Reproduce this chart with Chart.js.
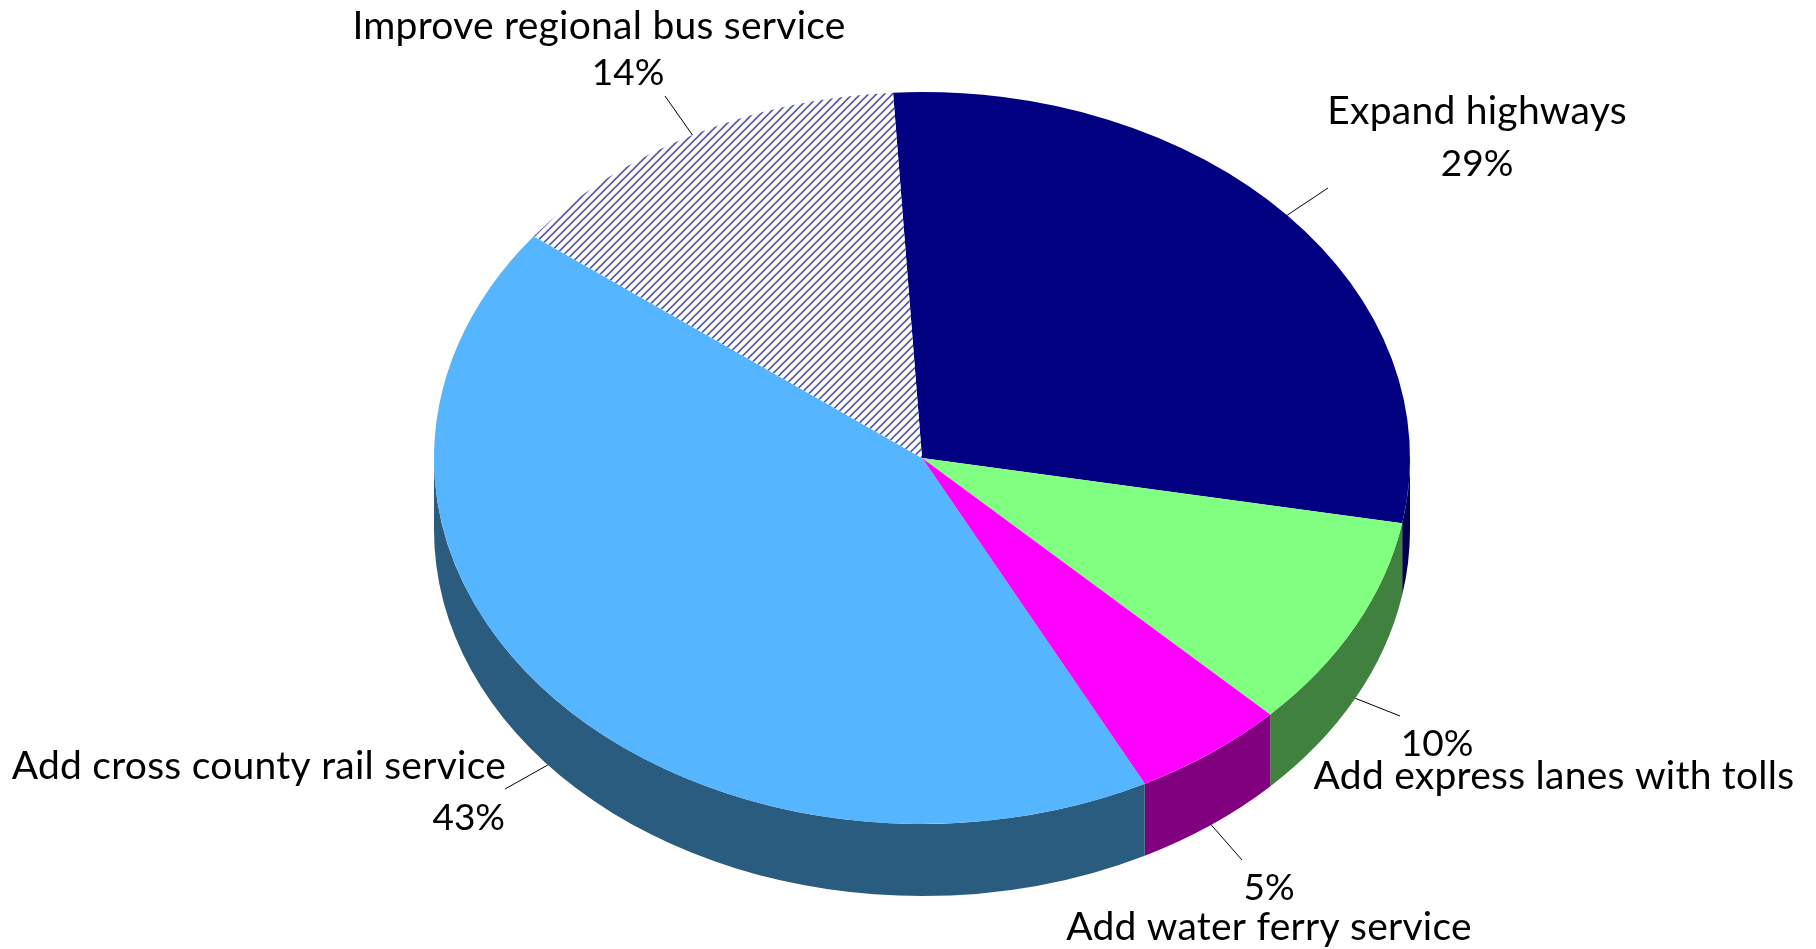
<!DOCTYPE html>
<html>
<head>
<meta charset="utf-8">
<style>
  html, body { margin: 0; padding: 0; background: #fff; }
  #chart-box { width: 1816px; height: 949px; }
</style>
</head>
<body>
<div id="chart-box"><canvas id="pie-chart"></canvas></div>
<script src="https://cdn.jsdelivr.net/npm/chart.js@4/dist/chart.umd.min.js"></script>
<script>
const categories = ['Expand highways', 'Add express lanes with tolls', 'Add water ferry service', 'Add cross county rail service', 'Improve regional bus service'];
const shares = [28.8, 9.5, 5.1, 42.9, 13.7];
const topColors = ['#000080', '#80ff80', '#ff00ff', '#55b6ff', null];
const wallColors = ['#000050', '#41813f', '#80007f', '#2a5c80', '#555566'];
const rotationDeg = -3.4;

// Where each label sits: leader end, then the two text rows [text kind, x, baseline, align]
const labelLayout = [
    { leader: [1328, 188], rows: [['name', 1477, 124, 'center'], ['pct', 1477, 176, 'center']] },
    { leader: [1400, 716], rows: [['pct', 1437, 756, 'center'], ['name', 1554, 789, 'center']] },
    { leader: [1242, 860], rows: [['pct', 1269, 900, 'center'], ['name', 1269, 940, 'center']] },
    { leader: [505, 789], rows: [['name', 506, 779, 'right'], ['pct', 505, 830, 'right']] },
    { leader: [665, 96], rows: [['name', 599, 39, 'center'], ['pct', 628, 85, 'center']] }
];

const rx = 488;
const ry = 366;
const squash = ry / rx;
const depth = 72;

// Light diagonal stripes for the bus slice. The tile gets stretched back
// because the whole pie is drawn squashed in y.
function makeHatch(ctx) {
    const tile = document.createElement('canvas');
    tile.width = tile.height = 8;
    const t = tile.getContext('2d');
    t.fillStyle = '#fff';
    t.fillRect(0, 0, 8, 8);
    t.strokeStyle = '#000080';
    t.lineWidth = 1.2;
    [[-2, 2, 2, -2], [-2, 10, 10, -2], [6, 10, 10, 6]].forEach(s => {
        t.beginPath();
        t.moveTo(s[0], s[1]);
        t.lineTo(s[2], s[3]);
        t.stroke();
    });
    const pattern = ctx.createPattern(tile, 'repeat');
    pattern.setTransform(new DOMMatrix().scale(1, 1 / squash));
    return pattern;
}

const squashPie = {
    id: 'squashPie',
    beforeDatasetsDraw(chart) {
        const ctx = chart.ctx;
        const arcs = chart.getDatasetMeta(0).data;
        const cx = arcs[0].x;
        const cy = arcs[0].y;

        // side wall, only the part of each slice facing the viewer
        arcs.forEach((arc, i) => {
            const from = Math.max(arc.startAngle, 0);
            const to = Math.min(arc.endAngle, Math.PI);
            if (from >= to) return;
            ctx.beginPath();
            ctx.ellipse(cx, cy, rx, ry, 0, from, to);
            ctx.ellipse(cx, cy + depth, rx, ry, 0, to, from, true);
            ctx.closePath();
            ctx.fillStyle = wallColors[i];
            ctx.fill();
        });

        ctx.save();
        ctx.translate(cx, cy);
        ctx.scale(1, squash);
        ctx.translate(-cx, -cy);
    },
    afterDatasetsDraw(chart) {
        const ctx = chart.ctx;
        ctx.restore();

        const arcs = chart.getDatasetMeta(0).data;
        ctx.textBaseline = 'alphabetic';
        arcs.forEach((arc, i) => {
            const mid = (arc.startAngle + arc.endAngle) / 2;
            const x = arc.x + rx * Math.cos(mid);
            let y = arc.y + ry * Math.sin(mid);
            if (Math.sin(mid) > 0) y += depth;

            ctx.beginPath();
            ctx.moveTo(x, y);
            ctx.lineTo(labelLayout[i].leader[0], labelLayout[i].leader[1]);
            ctx.strokeStyle = '#000';
            ctx.lineWidth = 1;
            ctx.stroke();

            labelLayout[i].rows.forEach(row => {
                const isName = row[0] === 'name';
                // Lato runs narrower than the original face, names need the extra room
                ctx.font = isName ? '39px Lato' : '37px Lato';
                ctx.letterSpacing = isName ? '0.25px' : '0px';
                ctx.textAlign = row[3];
                ctx.fillStyle = '#000';
                ctx.fillText(isName ? categories[i] : Math.round(shares[i]) + '%', row[1], row[2]);
            });
        });
    }
};

const canvas = document.getElementById('pie-chart');
const hatch = makeHatch(canvas.getContext('2d'));

new Chart(canvas, {
    type: 'pie',
    data: {
        labels: categories,
        datasets: [{
            data: shares,
            backgroundColor: topColors.map(c => c || hatch),
            borderWidth: 0,
            clip: false
        }]
    },
    options: {
        responsive: true,
        maintainAspectRatio: false,
        animation: false,
        radius: rx,
        rotation: rotationDeg,
        layout: { padding: { left: 28, right: 0, top: 0, bottom: 33 } },
        plugins: {
            legend: { display: false },
            tooltip: { enabled: false }
        }
    },
    plugins: [squashPie]
});
</script>
</body>
</html>
